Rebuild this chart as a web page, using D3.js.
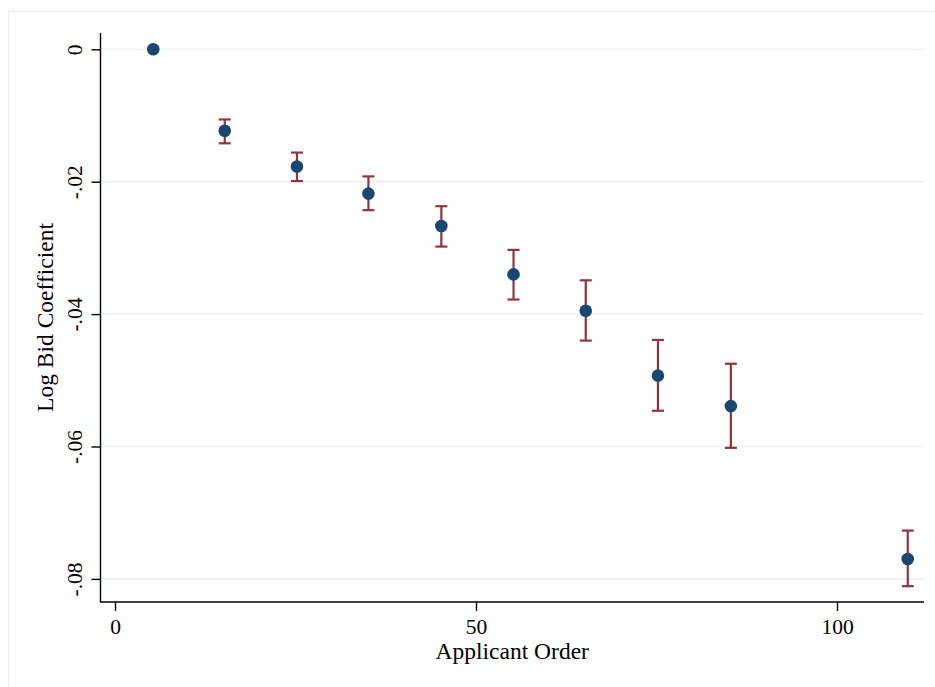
<!DOCTYPE html>
<html>
<head>
<meta charset="utf-8">
<script src="https://cdn.jsdelivr.net/npm/d3@7"></script>
<style>
  html, body { margin: 0; padding: 0; background: #fff; }
  svg { display: block; }
  text { font-family: "Liberation Serif", "DejaVu Serif", serif; fill: #000; }
</style>
</head>
<body>
<svg id="chart" width="935" height="687"></svg>
<script>
// Applicant order (bin means) and estimated log-bid coefficients with 95% CIs
const order = [5.3, 15.2, 25.2, 35.1, 45.2, 55.2, 65.2, 75.2, 85.3, 109.8];
const coef  = [0, -0.0123, -0.0177, -0.0218, -0.0267, -0.0340, -0.0395, -0.0493, -0.0539, -0.0770];
const ciHi  = [null, -0.0106, -0.0156, -0.0192, -0.0237, -0.0303, -0.0349, -0.0439, -0.0475, -0.0727];
const ciLo  = [null, -0.0142, -0.0199, -0.0243, -0.0298, -0.0378, -0.0440, -0.0546, -0.0602, -0.0811];
const xTicks = [0, 50, 100];
const yTicks = [0, -0.02, -0.04, -0.06, -0.08];
const yTickLabels = ["0", "-.02", "-.04", "-.06", "-.08"];

const svg = d3.select("#chart");

// outer graph frame
svg.append("rect")
  .attr("x", 8.5).attr("y", 11.5)
  .attr("width", 940).attr("height", 690)
  .attr("fill", "none").attr("stroke", "#e4edef").attr("stroke-width", 1);

const plot = { left: 100.5, right: 924, top: 33, bottom: 602 };

const x = d3.scaleLinear().domain([0, 100]).range([115, 837]);
const y = d3.scaleLinear().domain([0, -0.08]).range([49.3, 578.9]);

// horizontal grid lines
svg.append("g").selectAll("line").data(yTicks).join("line")
  .attr("x1", plot.left).attr("x2", plot.right)
  .attr("y1", d => y(d)).attr("y2", d => y(d))
  .attr("stroke", "#eaf2f3").attr("stroke-width", 1.6);

// y axis
const yAxis = svg.append("g")
  .attr("transform", `translate(${plot.left},0)`)
  .call(d3.axisLeft(y).tickValues(yTicks).tickFormat((d, i) => yTickLabels[i]).tickSize(9).tickPadding(0).tickSizeOuter(0));
yAxis.select(".domain").remove();
yAxis.append("line")
  .attr("x1", 0).attr("x2", 0).attr("y1", plot.top).attr("y2", plot.bottom)
  .attr("stroke", "#000").attr("stroke-width", 1.4);
yAxis.selectAll(".tick line").attr("stroke", "#000").attr("stroke-width", 1.4);
yAxis.selectAll(".tick text")
  .attr("x", null).attr("dy", null)
  .attr("transform", "translate(-18.5,0) rotate(-90)")
  .attr("text-anchor", "middle")
  .attr("font-size", 21.5)
  .attr("font-family", "Liberation Serif");

// x axis
const xAxis = svg.append("g")
  .attr("transform", `translate(0,${plot.bottom})`)
  .call(d3.axisBottom(x).tickValues(xTicks).tickFormat(d3.format("d")).tickSize(9).tickPadding(0).tickSizeOuter(0));
xAxis.select(".domain").remove();
xAxis.append("line")
  .attr("x1", plot.left - 0.7).attr("x2", plot.right).attr("y1", 0).attr("y2", 0)
  .attr("stroke", "#000").attr("stroke-width", 1.4);
xAxis.selectAll(".tick line").attr("stroke", "#000").attr("stroke-width", 1.4);
xAxis.selectAll(".tick text")
  .attr("y", 32).attr("dy", null)
  .attr("font-size", 21.5)
  .attr("font-family", "Liberation Serif");

// axis titles
svg.append("text")
  .attr("x", (plot.left + plot.right) / 2).attr("y", 659)
  .attr("text-anchor", "middle").attr("font-size", 23.5)
  .text("Applicant Order");
svg.append("text")
  .attr("transform", `translate(53,${(plot.top + plot.bottom) / 2}) rotate(-90)`)
  .attr("text-anchor", "middle").attr("font-size", 23.5)
  .text("Log Bid Coefficient");

// confidence intervals
const rows = order.map((o, i) => ({ o, c: coef[i], hi: ciHi[i], lo: ciLo[i] }));
const withCi = rows.filter(d => d.hi !== null);
const ci = svg.append("g").attr("stroke", "#90353b").attr("stroke-width", 2.2).attr("fill", "none");
ci.selectAll("line.v").data(withCi).join("line").attr("class", "v")
  .attr("x1", d => x(d.o)).attr("x2", d => x(d.o))
  .attr("y1", d => y(d.hi)).attr("y2", d => y(d.lo));
ci.selectAll("line.t").data(withCi).join("line").attr("class", "t")
  .attr("x1", d => x(d.o) - 6).attr("x2", d => x(d.o) + 6)
  .attr("y1", d => y(d.hi)).attr("y2", d => y(d.hi));
ci.selectAll("line.b").data(withCi).join("line").attr("class", "b")
  .attr("x1", d => x(d.o) - 6).attr("x2", d => x(d.o) + 6)
  .attr("y1", d => y(d.lo)).attr("y2", d => y(d.lo));

// point estimates
svg.append("g").selectAll("circle").data(rows).join("circle")
  .attr("cx", d => x(d.o)).attr("cy", d => y(d.c))
  .attr("r", 6.3).attr("fill", "#1a476f");
</script>
</body>
</html>
